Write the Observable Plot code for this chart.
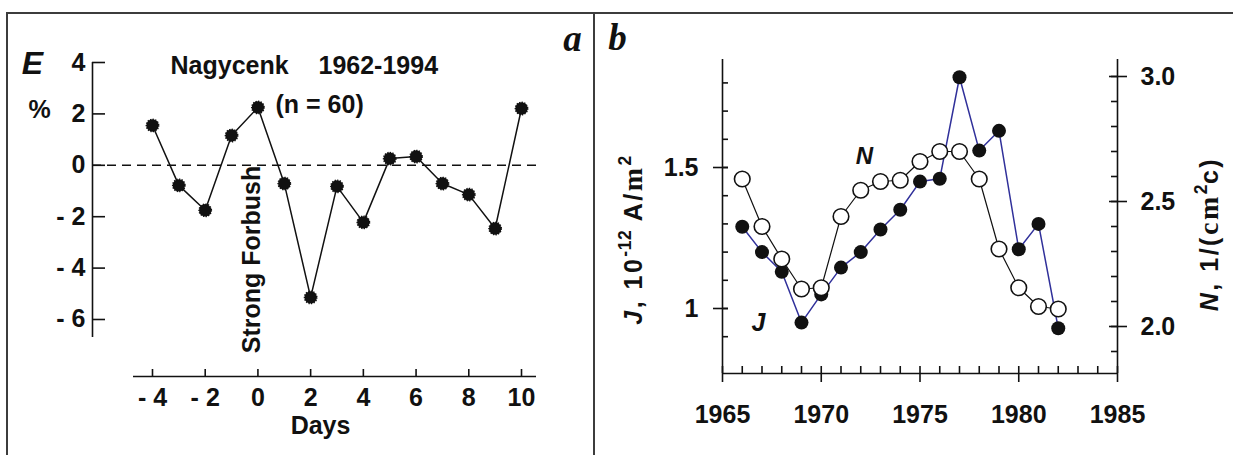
<!DOCTYPE html>
<html>
<head>
<meta charset="utf-8">
<script src="https://cdn.jsdelivr.net/npm/d3@7"></script>
<script src="https://cdn.jsdelivr.net/npm/@observablehq/plot@0.6"></script>
<style>
  body { margin: 0; background: #fff; }
  #wrap { position: relative; width: 1233px; height: 455px; overflow: hidden; background: #fff;
          font-family: "Liberation Sans", Arial, sans-serif; color: #111; }
  .panel { position: absolute; top: 0; }
  .line-h { position: absolute; left: 6px; top: 12px; width: 1240px; height: 0; border-top: 2px solid #3c3c3c; }
  .line-v { position: absolute; top: 12px; width: 0; height: 460px; border-left: 2px solid #3c3c3c; }
  .ytitle { position: absolute; transform: translate(-50%, -50%) rotate(-90deg); white-space: nowrap;
            font-weight: bold; font-size: 25px; letter-spacing: 2.5px; line-height: 1; }
  .ytitle sup { font-size: 0.7em; vertical-align: 0.6em; letter-spacing: 0.5px; }
  .serif { font-family: "Liberation Serif", "Times New Roman", serif; font-weight: bold; font-size: 1.12em; }
</style>
</head>
<body>
<div id="wrap">
  <div class="line-h"></div>
  <div class="line-v" style="left:6px"></div>
  <div class="line-v" style="left:593px"></div>
</div>
<script>
// ---------- Panel a data ----------
const days = [-4, -3, -2, -1, 0, 1, 2, 3, 4, 5, 6, 7, 8, 9, 10];
const eValues = [1.55, -0.78, -1.75, 1.16, 2.25, -0.71, -5.14, -0.82, -2.22, 0.26, 0.34, -0.71, -1.14, -2.46, 2.21];
const aXTicks = [-4, -2, 0, 2, 4, 6, 8, 10];
const aYTicks = [4, 2, 0, -2, -4, -6];

// ---------- Panel b data ----------
const years = [1966, 1967, 1968, 1969, 1970, 1971, 1972, 1973, 1974, 1975, 1976, 1977, 1978, 1979, 1980, 1981, 1982];
const jValues = [1.29, 1.20, 1.13, 0.95, 1.05, 1.145, 1.20, 1.28, 1.35, 1.45, 1.46, 1.82, 1.56, 1.63, 1.21, 1.30, 0.93];
const nValues = [2.59, 2.40, 2.27, 2.15, 2.155, 2.44, 2.545, 2.58, 2.585, 2.66, 2.70, 2.70, 2.59, 2.31, 2.155, 2.08, 2.07];
const bXMajor = [1965, 1970, 1975, 1980, 1985];
const bXMinor = d3.range(1965, 1986);
const bJMajor = [1, 1.5];
const bJMinor = d3.range(9, 19).map(d => d / 10);
const bNMajor = [2.0, 2.5, 3.0];
const bNMinor = d3.range(19, 31).map(d => d / 10);

const tableA = days.map((d, i) => ({day: d, e: eValues[i]}));
const tableJ = years.map((y, i) => ({year: y, v: jValues[i]}));
const tableN = years.map((y, i) => ({year: y, v: nValues[i]}));

const baseStyle = {
  background: "transparent",
  fontFamily: "'Liberation Sans', Arial, sans-serif",
  fontSize: "25px",
  fontWeight: "bold",
  color: "#111",
  overflow: "visible"
};
const ink = "#111";
const minusFmt = d => d < 0 ? "- " + (-d) : String(d);
const wrap = document.getElementById("wrap");

function place(svg, left) {
  svg.classList.add("panel");
  svg.style.left = left + "px";
  wrap.appendChild(svg);
}

// ---------- Panel a ----------
const aXmin = -6.276, aXmax = 10.569, aYmin = -8.218, aYmax = 4;
const plotA = Plot.plot({
  width: 594, height: 455,
  marginLeft: 92, marginRight: 58, marginTop: 62, marginBottom: 79,
  x: {domain: [aXmin, aXmax], label: null},
  y: {domain: [aYmin, aYmax], label: null},
  style: baseStyle,
  marks: [
    Plot.ruleX([aXmin], {y1: -6.70, y2: 4, stroke: ink, strokeWidth: 1.6}),
    Plot.ruleY([aYmin], {x1: -4.72, x2: aXmax, stroke: ink, strokeWidth: 1.6}),
    Plot.ruleY([0], {x1: aXmin, x2: 10.6, stroke: ink, strokeWidth: 1.5, strokeDasharray: "9,6"}),
    Plot.axisY({ticks: aYTicks, anchor: "left", label: null, tickSize: 13, dx: 13, strokeWidth: 1.6, tickFormat: () => ""}),
    Plot.axisY({ticks: aYTicks, anchor: "left", label: null, tickSize: 0, tickPadding: 7, tickFormat: minusFmt}),
    Plot.axisX({ticks: aXTicks, anchor: "bottom", label: null, tickSize: 7, dy: -7, strokeWidth: 1.6, tickFormat: () => ""}),
    Plot.axisX({ticks: aXTicks, anchor: "bottom", label: null, tickSize: 0, tickPadding: 12, tickFormat: minusFmt}),
    Plot.line(tableA, {x: "day", y: "e", stroke: ink, strokeWidth: 1.5}),
    Plot.dot(tableA, {x: "day", y: "e", r: 6.2, fill: ink, stroke: ink, strokeWidth: 1.4, strokeDasharray: "1.3,1.3"}),
    Plot.text(["E"], {frameAnchor: "top-left", dx: -60, dy: 1, fontSize: 32, fontStyle: "italic", textAnchor: "middle", lineAnchor: "middle"}),
    Plot.text(["%"], {frameAnchor: "top-left", dx: -53, dy: 47, textAnchor: "middle", lineAnchor: "middle"}),
    Plot.text(["Nagycenk"], {frameAnchor: "top-left", dx: 78, dy: 3, textAnchor: "start", lineAnchor: "middle"}),
    Plot.text(["1962-1994"], {frameAnchor: "top-left", dx: 226, dy: 3, textAnchor: "start", lineAnchor: "middle"}),
    Plot.text(["(n = 60)"], {frameAnchor: "top-left", dx: 183, dy: 42, textAnchor: "start", lineAnchor: "middle"}),
    Plot.text(["Strong Forbush"], {frameAnchor: "top-left", dx: 159, dy: 197, rotate: -90, textAnchor: "middle", lineAnchor: "middle"}),
    Plot.text(["Days"], {frameAnchor: "top-left", dx: 228, dy: 363, textAnchor: "middle", lineAnchor: "middle"}),
    Plot.text(["a"], {frameAnchor: "top-left", dx: 480, dy: -23, fontSize: 37, fontStyle: "italic", fontFamily: "'Liberation Serif', 'Times New Roman', serif", textAnchor: "middle", lineAnchor: "middle"})
  ]
});
place(plotA, 0);

// ---------- Panel b: J (left axis) ----------
const bW = 639, bML = 128, bMR = 116, bMT = 59, bMB = 82;
const jDomain = [0.7695, 1.883];
const nDomain = [1.812, 3.068];
const plotJ = Plot.plot({
  width: bW, height: 455,
  marginLeft: bML, marginRight: bMR, marginTop: bMT, marginBottom: bMB,
  x: {domain: [1965, 1985], label: null},
  y: {domain: jDomain, label: null},
  style: baseStyle,
  marks: [
    Plot.ruleX([1965], {stroke: ink, strokeWidth: 1.6}),
    Plot.ruleY([jDomain[0]], {stroke: ink, strokeWidth: 1.6}),
    Plot.axisX({ticks: bXMajor, anchor: "bottom", label: null, tickSize: 9, strokeWidth: 1.6, tickFormat: () => ""}),
    Plot.axisX({ticks: bXMinor, anchor: "bottom", label: null, tickSize: 7, dy: -7, strokeWidth: 1.6, tickFormat: () => ""}),
    Plot.axisX({ticks: bXMajor, anchor: "bottom", label: null, tickSize: 0, tickPadding: 32, tickFormat: d => String(d)}),
    Plot.axisY({ticks: bJMajor, anchor: "left", label: null, tickSize: 15, dx: 6, strokeWidth: 1.6, tickFormat: () => ""}),
    Plot.axisY({ticks: bJMinor, anchor: "left", label: null, tickSize: 6, dx: 6, strokeWidth: 1.6, tickFormat: () => ""}),
    Plot.axisY({ticks: bJMajor, anchor: "left", label: null, tickSize: 0, tickPadding: 24, tickFormat: d => String(d)}),
    Plot.line(tableJ, {x: "year", y: "v", stroke: "#30309a", strokeWidth: 1.5}),
    Plot.dot(tableJ, {x: "year", y: "v", r: 7, fill: ink, stroke: "none"}),
    Plot.text(["b"], {frameAnchor: "top-left", dx: -105, dy: -21, fontSize: 37, fontStyle: "italic", fontFamily: "'Liberation Serif', 'Times New Roman', serif", textAnchor: "middle", lineAnchor: "middle"}),
    Plot.text(["N"], {frameAnchor: "top-left", dx: 142, dy: 97, fontSize: 24, fontStyle: "italic", textAnchor: "middle", lineAnchor: "middle"}),
    Plot.text(["J"], {frameAnchor: "top-left", dx: 36, dy: 263, fontSize: 25, fontStyle: "italic", textAnchor: "middle", lineAnchor: "middle"})
  ]
});
place(plotJ, 594);

// ---------- Panel b: N (right axis), overlaid ----------
const plotN = Plot.plot({
  width: bW, height: 455,
  marginLeft: bML, marginRight: bMR, marginTop: bMT, marginBottom: bMB,
  x: {domain: [1965, 1985], axis: null, label: null},
  y: {domain: nDomain, label: null},
  style: baseStyle,
  marks: [
    Plot.ruleX([1985], {stroke: ink, strokeWidth: 1.6}),
    Plot.axisY({ticks: bNMajor, anchor: "right", label: null, tickSize: 18, dx: -9, strokeWidth: 1.6, tickFormat: () => ""}),
    Plot.axisY({ticks: bNMinor, anchor: "right", label: null, tickSize: 7, dx: -7, strokeWidth: 1.6, tickFormat: () => ""}),
    Plot.axisY({ticks: bNMajor, anchor: "right", label: null, tickSize: 0, tickPadding: 23, tickFormat: d3.format(".1f")}),
    Plot.line(tableN, {x: "year", y: "v", stroke: ink, strokeWidth: 1.2}),
    Plot.dot(tableN, {x: "year", y: "v", r: 7.8, fill: "#fff", stroke: ink, strokeWidth: 1.6})
  ]
});
place(plotN, 594);

// ---------- rotated axis titles (rich text) ----------
const tJ = document.createElement("div");
tJ.className = "ytitle";
tJ.style.left = "632px"; tJ.style.top = "240px";
tJ.innerHTML = '<i>J</i>, 10<sup>-12</sup> A/<span class="serif">m</span><sup>2</sup>';
wrap.appendChild(tJ);

const tN = document.createElement("div");
tN.className = "ytitle";
tN.style.left = "1208px"; tN.style.top = "234px";
tN.innerHTML = '<i>N</i>, 1/(<span class="serif">cm</span><sup>2</sup>c)';
wrap.appendChild(tN);
</script>
</body>
</html>
